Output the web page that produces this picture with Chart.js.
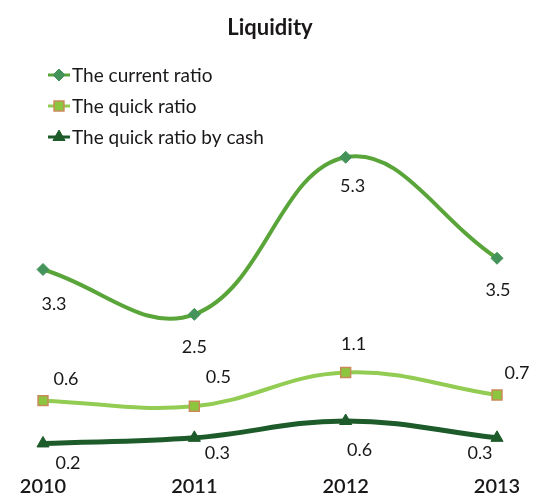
<!DOCTYPE html>
<html>
<head>
<meta charset="utf-8">
<title>Liquidity</title>
<script src="https://cdn.jsdelivr.net/npm/chart.js@4.4.1/dist/chart.umd.min.js"></script>
<style>
  html, body { margin: 0; padding: 0; background: #fff; }
  #liquidity { display: block; }
</style>
</head>
<body>
<canvas id="liquidity" width="549" height="498"></canvas>
<script>
// Series data
const years = ['2010', '2011', '2012', '2013'];
const currentRatio = [3.3, 2.5, 5.3, 3.5];
const quickRatio = [0.6, 0.5, 1.1, 0.7];
const cashRatio = [0.2, 0.3, 0.6, 0.3];
const seriesNames = ['The current ratio', 'The quick ratio', 'The quick ratio by cash'];

// Where each value label sits relative to its point [dx, dy]
const currentLabelPos = [[11, 35], [0, 33], [7, 29], [1, 32]];
const quickLabelPos = [[23, -21], [24, -29], [8, -28], [20, -22]];
const cashLabelPos = [[25, 20], [23, 15], [14, 29], [-17, 15]];

const FONT = 'Lato, "Open Sans", sans-serif';
const TEXT = '#1a1718';

// Value labels drawn next to every point
const valueLabels = {
  id: 'valueLabels',
  afterDatasetsDraw(chart) {
    const ctx = chart.ctx;
    ctx.save();
    ctx.font = '18px ' + FONT;
    ctx.fillStyle = TEXT;
    ctx.textAlign = 'center';
    ctx.textBaseline = 'middle';
    chart.data.datasets.forEach((ds, i) => {
      const meta = chart.getDatasetMeta(i);
      meta.data.forEach((pt, j) => {
        const [dx, dy] = ds.labelPos[j];
        ctx.fillText(String(ds.data[j]), pt.x + dx, pt.y + dy);
      });
    });
    ctx.restore();
  }
};

// Stacked legend in the top-left corner
const stackedLegend = {
  id: 'stackedLegend',
  afterDraw(chart) {
    const ctx = chart.ctx;
    const x0 = 48, rows = [75, 106, 137];
    ctx.save();
    chart.data.datasets.forEach((ds, i) => {
      const y = rows[i];
      ctx.strokeStyle = ds.borderColor;
      ctx.lineWidth = 3;
      ctx.beginPath();
      ctx.moveTo(x0, y);
      ctx.lineTo(x0 + 22, y);
      ctx.stroke();
      ctx.fillStyle = ds.pointBackgroundColor;
      ctx.strokeStyle = ds.pointBorderColor;
      ctx.lineWidth = ds.pointBorderWidth;
      Chart.helpers.drawPoint(ctx, {
        pointStyle: ds.pointStyle,
        radius: ds.pointRadius,
        rotation: 0,
        borderWidth: ds.pointBorderWidth
      }, x0 + 11, y);
      ctx.font = '19px ' + FONT;
      ctx.fillStyle = TEXT;
      ctx.textAlign = 'left';
      ctx.textBaseline = 'middle';
      ctx.fillText(ds.label, x0 + 24, y + 1);
    });
    ctx.restore();
  }
};

new Chart(document.getElementById('liquidity'), {
  type: 'line',
  data: {
    labels: years,
    datasets: [
      {
        label: seriesNames[0],
        data: currentRatio,
        labelPos: currentLabelPos,
        borderColor: '#5aa53a',
        borderWidth: 4,
        pointStyle: 'rectRot',
        pointRadius: 6,
        pointBackgroundColor: '#44935a',
        pointBorderColor: '#44935a',
        pointBorderWidth: 1,
        tension: 0.4,
        yAxisID: 'y'
      },
      {
        label: seriesNames[1],
        data: quickRatio,
        labelPos: quickLabelPos,
        borderColor: '#92cc52',
        borderWidth: 4,
        pointStyle: 'rect',
        pointRadius: 7,
        pointBackgroundColor: '#8cc63f',
        pointBorderColor: '#c98a5a',
        pointBorderWidth: 1.5,
        tension: 0.4,
        yAxisID: 'yQuick'
      },
      {
        label: seriesNames[2],
        data: cashRatio,
        labelPos: cashLabelPos,
        borderColor: '#1d5c2a',
        borderWidth: 5,
        pointStyle: 'triangle',
        pointRadius: 7,
        pointBackgroundColor: '#1d5c2a',
        pointBorderColor: '#1d5c2a',
        pointBorderWidth: 1,
        tension: 0.4,
        yAxisID: 'y'
      }
    ]
  },
  options: {
    responsive: false,
    animation: false,
    layout: { padding: { top: 0, left: 43, right: 52, bottom: 0 } },
    plugins: {
      legend: { display: false },
      tooltip: { enabled: false },
      title: {
        display: true,
        text: 'Liquidity',
        color: TEXT,
        font: { family: FONT, size: 22, weight: 'bold' },
        padding: { top: 15, bottom: 99 }
      }
    },
    scales: {
      x: {
        offset: false,
        grid: { display: false, drawTicks: false },
        border: { display: false },
        ticks: { color: TEXT, font: { family: FONT, size: 20, weight: '600', lineHeight: 1.0 }, padding: 1 }
      },
      y: { display: false, min: -0.38, max: 5.6 },
      yQuick: { display: false, min: -0.743, max: 5.237 }
    }
  },
  plugins: [valueLabels, stackedLegend]
});
</script>
</body>
</html>
